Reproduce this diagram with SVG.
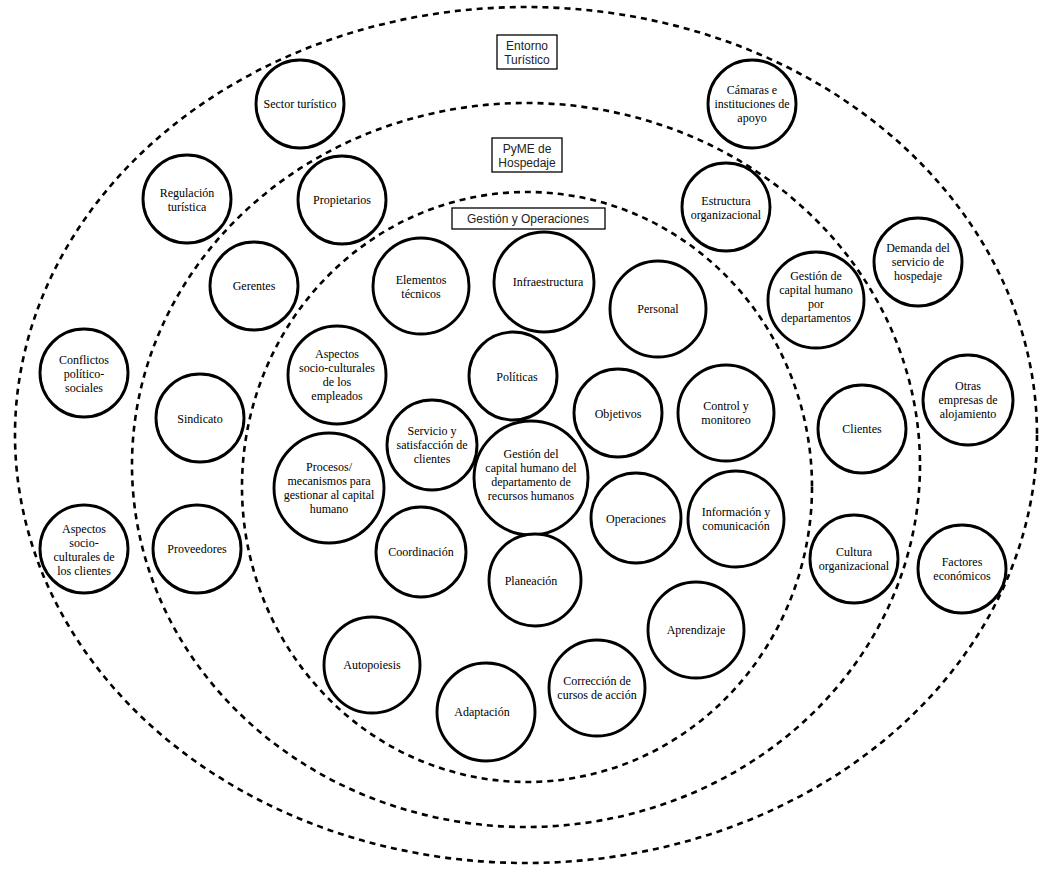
<svg xmlns="http://www.w3.org/2000/svg" width="1053" height="870" viewBox="0 0 1053 870">
<style>
.ring{fill:none;stroke:#000;stroke-width:2.6;stroke-dasharray:6 5}
.n circle{fill:#fff;stroke:#000;stroke-width:2.9}
.n text{font-family:"Liberation Serif","Times New Roman",serif;font-size:12px;text-anchor:middle;fill:#000}
.lb rect{fill:#fff;stroke:#000;stroke-width:1.3}
.lb text{font-family:"Liberation Sans",Arial,sans-serif;font-size:12px;text-anchor:middle;fill:#222}
</style>
<rect width="1053" height="870" fill="#fff"/>
<g id="rings">
<ellipse class="ring" cx="526" cy="435" rx="511" ry="428"/>
<ellipse class="ring" cx="526" cy="465" rx="394" ry="362"/>
<ellipse class="ring" cx="527" cy="487" rx="285" ry="295"/>
</g>
<g id="labels" class="lb">
<g id="lb-entorno"><rect x="497" y="35" width="60" height="34"/><text x="527" y="50">Entorno</text><text x="527" y="64">Turístico</text></g>
<g id="lb-pyme"><rect x="492" y="138" width="70" height="34"/><text x="527" y="153">PyME de</text><text x="527" y="167">Hospedaje</text></g>
<g id="lb-gestion"><rect x="452" y="208" width="153" height="21"/><text x="528" y="223">Gestión y Operaciones</text></g>
</g>
<g id="connectors"></g>
<g id="n1" class="n"><circle cx="300" cy="104" r="44"/><text x="300" y="108">Sector turístico</text></g>
<g id="n2" class="n"><circle cx="187" cy="199" r="44"/><text x="187" y="197">Regulación</text><text x="187" y="211">turística</text></g>
<g id="n3" class="n"><circle cx="342" cy="200" r="44"/><text x="342" y="204">Propietarios</text></g>
<g id="n4" class="n"><circle cx="254" cy="286" r="44"/><text x="254" y="290">Gerentes</text></g>
<g id="n5" class="n"><circle cx="421" cy="286" r="48"/><text x="421" y="284">Elementos</text><text x="421" y="298">técnicos</text></g>
<g id="n6" class="n"><circle cx="544" cy="282" r="50"/><text x="548" y="286">Infraestructura</text></g>
<g id="n7" class="n"><circle cx="658" cy="309" r="48"/><text x="658" y="313">Personal</text></g>
<g id="n8" class="n"><circle cx="752" cy="104" r="44"/><text x="752" y="94">Cámaras e</text><text x="752" y="108">instituciones de</text><text x="752" y="122">apoyo</text></g>
<g id="n9" class="n"><circle cx="726" cy="207" r="44"/><text x="726" y="205">Estructura</text><text x="726" y="219">organizacional</text></g>
<g id="n10" class="n"><circle cx="918" cy="262" r="44"/><text x="918" y="252">Demanda del</text><text x="918" y="266">servicio de</text><text x="918" y="280">hospedaje</text></g>
<g id="n11" class="n"><circle cx="816" cy="300" r="48"/><text x="816" y="280">Gestión de</text><text x="816" y="294">capital humano</text><text x="816" y="308">por</text><text x="816" y="322">departamentos</text></g>
<g id="n12" class="n"><circle cx="84" cy="373" r="44"/><text x="84" y="364">Conflictos</text><text x="84" y="378">político-</text><text x="84" y="392">sociales</text></g>
<g id="n13" class="n"><circle cx="200" cy="418" r="44"/><text x="200" y="423">Sindicato</text></g>
<g id="n14" class="n"><circle cx="84" cy="549" r="44"/><text x="84" y="533">Aspectos</text><text x="84" y="547">socio-</text><text x="84" y="561">culturales de</text><text x="84" y="575">los clientes</text></g>
<g id="n15" class="n"><circle cx="197" cy="549" r="44"/><text x="197" y="553">Proveedores</text></g>
<g id="n16" class="n"><circle cx="337" cy="375" r="49"/><text x="337" y="358">Aspectos</text><text x="337" y="372">socio-culturales</text><text x="337" y="386">de los</text><text x="337" y="400">empleados</text></g>
<g id="n17" class="n"><circle cx="329" cy="488" r="55"/><text x="329" y="471">Procesos/</text><text x="329" y="485">mecanismos para</text><text x="329" y="499">gestionar al capital</text><text x="329" y="513">humano</text></g>
<g id="n18" class="n"><circle cx="432" cy="445" r="45"/><text x="432" y="435">Servicio y</text><text x="432" y="449">satisfacción de</text><text x="432" y="463">clientes</text></g>
<g id="n19" class="n"><circle cx="421" cy="552" r="45"/><text x="421" y="556">Coordinación</text></g>
<g id="n20" class="n"><circle cx="513" cy="376" r="44"/><text x="517" y="381">Políticas</text></g>
<g id="n21" class="n"><circle cx="531" cy="478" r="57"/><text x="531" y="458">Gestión del</text><text x="531" y="472">capital humano del</text><text x="531" y="486">departamento de</text><text x="531" y="500">recursos humanos</text></g>
<g id="n22" class="n"><circle cx="535" cy="580" r="46"/><text x="531" y="585">Planeación</text></g>
<g id="n23" class="n"><circle cx="618" cy="413" r="44"/><text x="618" y="418">Objetivos</text></g>
<g id="n24" class="n"><circle cx="726" cy="413" r="48"/><text x="726" y="410">Control y</text><text x="726" y="424">monitoreo</text></g>
<g id="n25" class="n"><circle cx="636" cy="518" r="45"/><text x="636" y="523">Operaciones</text></g>
<g id="n26" class="n"><circle cx="736" cy="519" r="48"/><text x="736" y="516">Información y</text><text x="736" y="530">comunicación</text></g>
<g id="n27" class="n"><circle cx="862" cy="429" r="44"/><text x="862" y="433">Clientes</text></g>
<g id="n28" class="n"><circle cx="968" cy="400" r="45"/><text x="968" y="390">Otras</text><text x="968" y="404">empresas de</text><text x="968" y="418">alojamiento</text></g>
<g id="n29" class="n"><circle cx="854" cy="559" r="44"/><text x="854" y="556">Cultura</text><text x="854" y="570">organizacional</text></g>
<g id="n30" class="n"><circle cx="962" cy="569" r="44"/><text x="962" y="566">Factores</text><text x="962" y="580">económicos</text></g>
<g id="n31" class="n"><circle cx="372" cy="665" r="48"/><text x="372" y="669">Autopoiesis</text></g>
<g id="n32" class="n"><circle cx="486" cy="712" r="49"/><text x="482" y="716">Adaptación</text></g>
<g id="n33" class="n"><circle cx="597" cy="688" r="48"/><text x="597" y="685">Corrección de</text><text x="597" y="699">cursos de acción</text></g>
<g id="n34" class="n"><circle cx="696" cy="630" r="48"/><text x="696" y="634">Aprendizaje</text></g>
</svg>
